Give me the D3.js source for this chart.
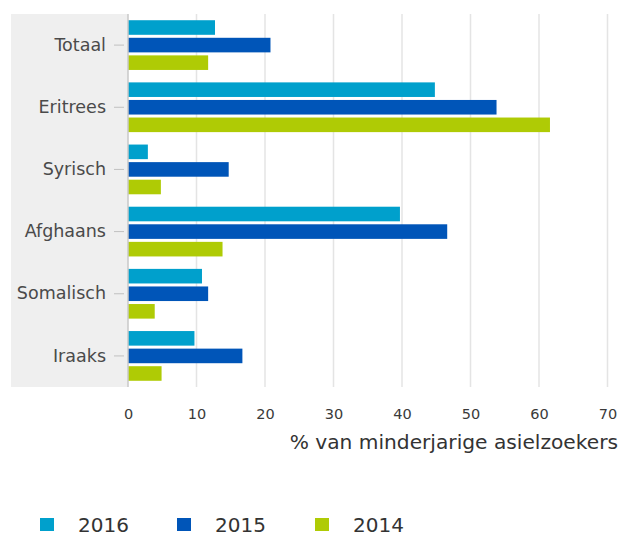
<!DOCTYPE html>
<html>
<head>
<meta charset="utf-8">
<script src="https://cdn.jsdelivr.net/npm/d3@7"></script>
<style>
  body { margin: 0; background: #fff; }
  text { font-family: "DejaVu Sans", Verdana, sans-serif; fill: #444; }
</style>
</head>
<body>
<div id="chart"></div>
<script>
// data
const categories = ["Totaal", "Eritrees", "Syrisch", "Afghaans", "Somalisch", "Iraaks"];
const years = ["2016", "2015", "2014"];
const values2016 = [12.7, 44.8, 2.9, 39.7, 10.8, 9.7];
const values2015 = [20.8, 53.8, 14.7, 46.6, 11.7, 16.7];
const values2014 = [11.7, 61.6, 4.8, 13.8, 3.9, 4.9];
const xTicks = [0, 10, 20, 30, 40, 50, 60, 70];
const colors = ["#00a0cc", "#0055b8", "#afcb05"];

const rows = categories.map((c, i) => ({
  name: c,
  vals: [values2016[i], values2015[i], values2014[i]]
}));

const W = 622, H = 537;
const margin = { top: 14, right: 14, bottom: 150, left: 128 };
const width = 607.5 - margin.left,
      height = 387 - margin.top;

const svg = d3.select("#chart").append("svg")
  .attr("width", W)
  .attr("height", H);

const g = svg.append("g")
  .attr("transform", `translate(${margin.left}, ${margin.top})`);

const x = d3.scaleLinear().domain([0, 70]).range([0, width]);
const y = d3.scaleBand().domain(categories).range([0, height])
  .paddingInner(0.2).paddingOuter(0.1);
const y1 = d3.scaleBand().domain(years).range([0, y.bandwidth()])
  .paddingInner(0.17);
const color = d3.scaleOrdinal().domain(years).range(colors);

// grijs vlak achter labels
g.append("rect")
  .attr("x", 11 - margin.left)
  .attr("y", 0)
  .attr("width", margin.left - 11)
  .attr("height", height)
  .attr("fill", "#efefef");

// rasterlijnen
g.selectAll(".grid")
  .data(xTicks.slice(1))
  .enter().append("line")
  .attr("x1", d => x(d)).attr("x2", d => x(d))
  .attr("y1", 0).attr("y2", height)
  .attr("stroke", "#e4e4e4")
  .attr("stroke-width", 1.5);

// balken
const grp = g.selectAll(".grp")
  .data(rows)
  .enter().append("g")
  .attr("transform", d => `translate(0, ${y(d.name)})`);

grp.selectAll("rect")
  .data(d => d.vals.map((v, i) => ({ year: years[i], value: v })))
  .enter().append("rect")
  .attr("x", 0)
  .attr("y", d => y1(d.year))
  .attr("height", y1.bandwidth())
  .attr("width", d => x(d.value))
  .attr("fill", d => color(d.year));

// y-as
const yAxis = g.append("g")
  .call(d3.axisLeft(y).tickSize(10).tickPadding(8));
yAxis.select(".domain").attr("stroke", "#c8c8c8").attr("stroke-width", 1.5)
  .attr("d", `M0,0V${height}`);
yAxis.selectAll(".tick line").attr("stroke", "#c0c0c0").attr("x2", -14).attr("x1", -4);
yAxis.selectAll(".tick text")
  .attr("x", -22)
  .style("font-size", "17.5px")
  .style("fill", "#4a4a4a");

// x-as
const xAxis = g.append("g")
  .attr("transform", `translate(0, ${height})`)
  .call(d3.axisBottom(x).tickValues(xTicks).tickSize(0).tickPadding(22));
xAxis.select(".domain").remove();
xAxis.selectAll(".tick text")
  .style("font-size", "14.5px")
  .style("fill", "#3a3a3a");

// as-titel
svg.append("text")
  .attr("x", 618)
  .attr("y", 449)
  .attr("text-anchor", "end")
  .style("font-size", "20.2px")
  .style("fill", "#333")
  .text("% van minderjarige asielzoekers");

// legenda
const legX = [40, 177, 315];
const leg = svg.selectAll(".leg")
  .data(years)
  .enter().append("g")
  .attr("transform", (d, i) => `translate(${legX[i]}, 518)`);
leg.append("rect")
  .attr("width", 14).attr("height", 13)
  .attr("fill", d => color(d));
leg.append("text")
  .attr("x", 38)
  .attr("y", 14)
  .style("font-size", "20px")
  .style("fill", "#333")
  .text(d => d);
</script>
</body>
</html>
